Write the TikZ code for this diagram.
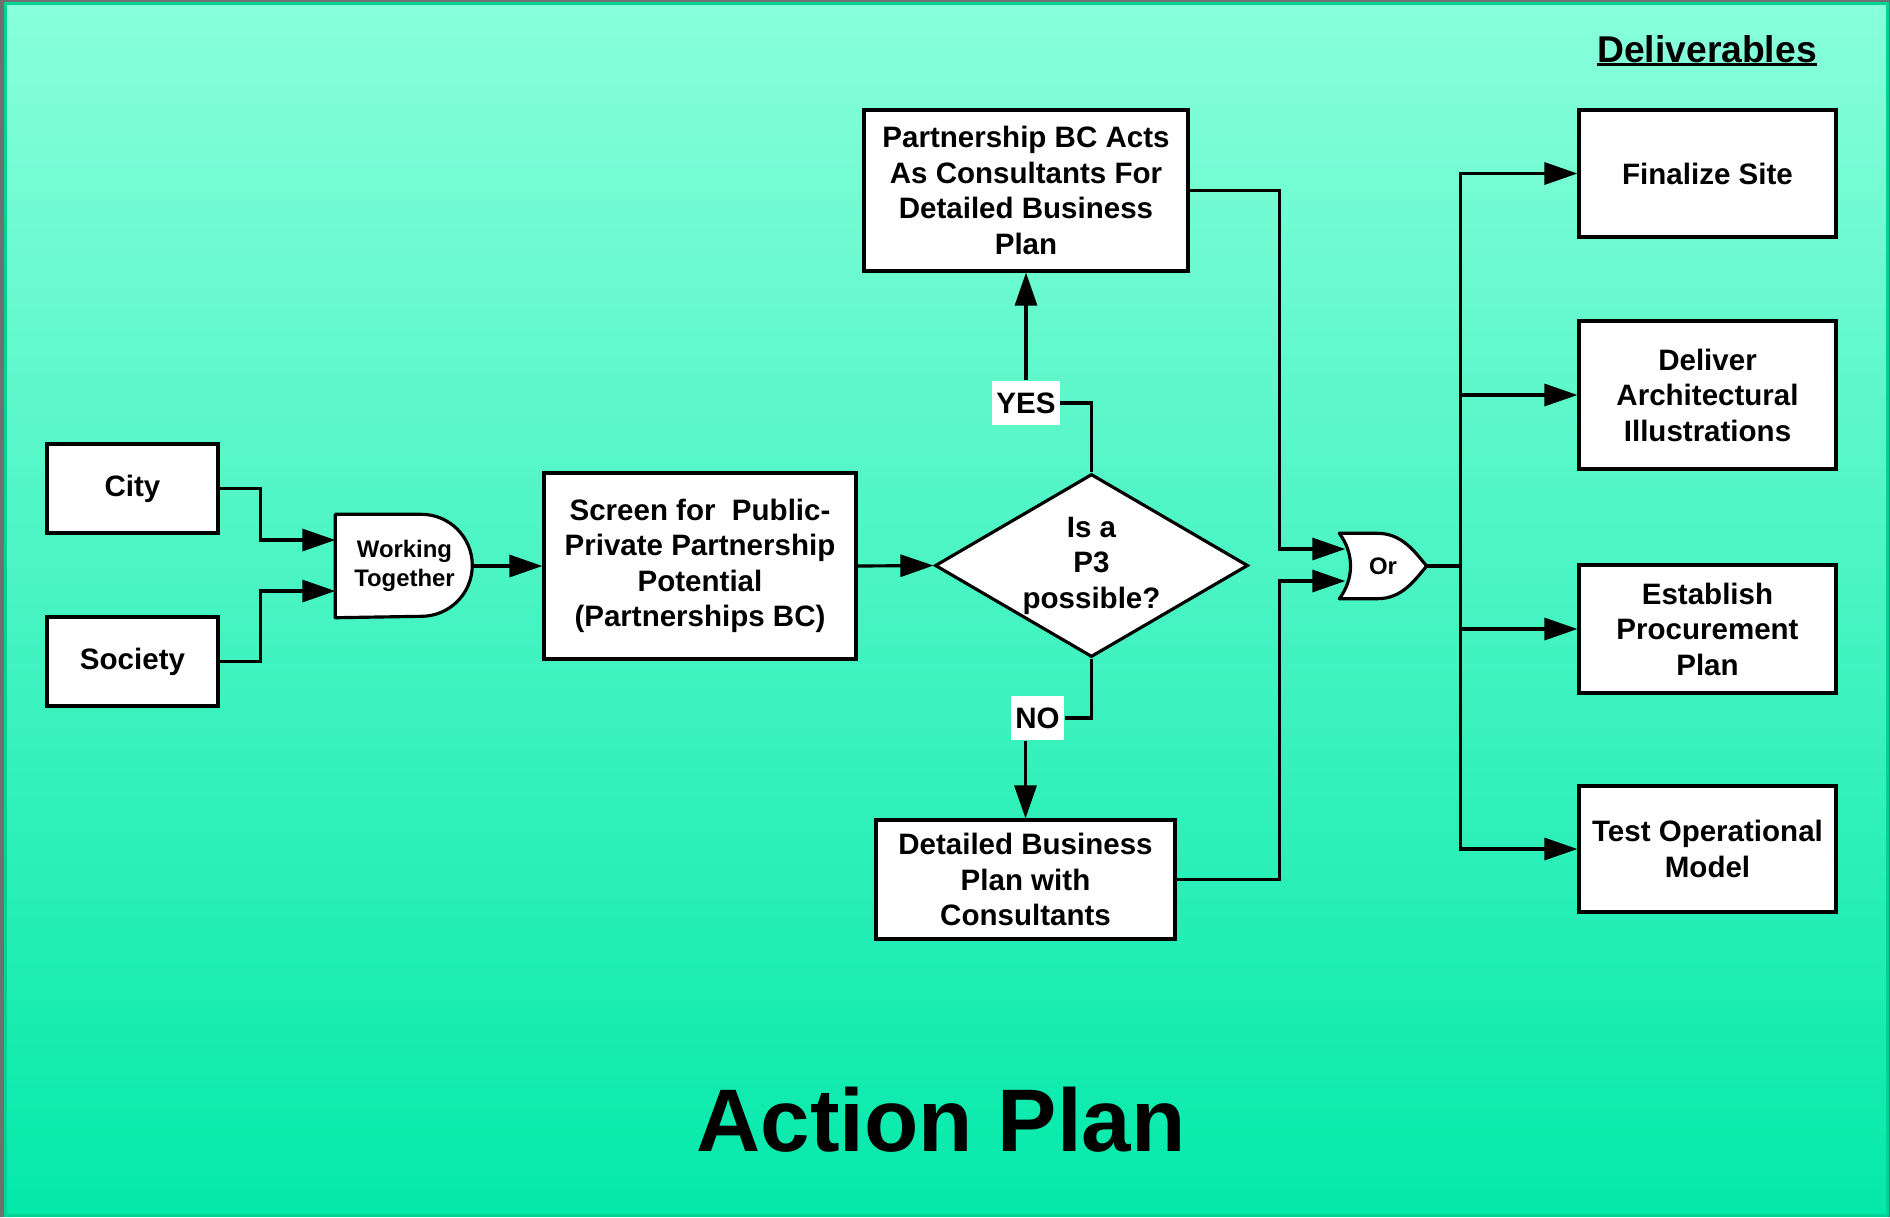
\documentclass[tikz,border=0pt]{standalone}
\usepackage{fontspec}
\setmainfont{Liberation Sans}
\usepackage{tikz}
\usetikzlibrary{arrows.meta,positioning,calc,shapes.geometric,backgrounds}
\definecolor{slidetop}{HTML}{88FFDA}
\definecolor{slidebot}{HTML}{04E9AA}
\definecolor{slideedge}{HTML}{00D396}
\definecolor{slideshadow}{HTML}{6F6F6F}

\begin{document}
\begin{tikzpicture}[
        box/.style={draw, line width=0.9pt, fill=white, align=center, inner sep=1pt,
                    font=\fontsize{8.4}{10.1}\selectfont\bfseries},
        gate/.style={draw=none, align=center, inner sep=0pt, font=\fontsize{6.8}{8.2}\selectfont\bfseries},
        gateline/.style={line width=0.9pt, fill=white, line join=round},
        tag/.style={fill=white, inner xsep=1.2pt, minimum height=3.9mm,
                    font=\fontsize{8.4}{10.1}\selectfont\bfseries},
        arr/.style={-{Triangle[length=3.3mm,width=2.2mm]}, line width=0.9pt}]
        \useasboundingbox (0,0) rectangle (18.9,-12.17);
        \begin{scope}[on background layer]
          \fill[slideshadow] (0,0) rectangle (18.9,-12.17);
          \shadedraw[top color=slidetop, bottom color=slidebot, draw=slideedge, line width=0.3mm]
            (0.055,-0.035) rectangle (18.875,-12.155);
        \end{scope}
        % inputs and screening
        \node[box, minimum width=1.71cm, minimum height=0.89cm] (city) at (1.325,-4.885) {City};
        \node[box, minimum width=1.71cm, minimum height=0.89cm] (soc) at (1.325,-6.615) {Society};
        \node[gate, minimum width=1.37cm, minimum height=1.02cm] (wt) at (4.045,-5.66) {Working\\Together};
        \node[box, minimum width=3.12cm, minimum height=1.86cm] (scr) at (7.00,-5.66)
              {Screen for\ \ Public-\\Private Partnership\\Potential\\(Partnerships BC)};
        \node[box, shape=diamond, aspect=1.71, minimum width=3.13cm, minimum height=1.83cm, inner sep=0pt] (p3)
              at (10.915,-5.655) {Is a\\P3\\possible?};
        \node[box, minimum width=3.24cm, minimum height=1.61cm] (pbc) at (10.26,-1.905)
              {Partnership BC Acts\\As Consultants For\\Detailed Business\\Plan};
        \node[box, minimum width=2.99cm, minimum height=1.19cm] (dbp) at (10.255,-8.795)
              {Detailed Business\\Plan with\\Consultants};
        \node[gate, minimum width=0.86cm, minimum height=0.64cm] (orr) at (13.83,-5.66) {Or};
        % deliverables
        \node[box, minimum width=2.57cm, minimum height=1.27cm] (fin) at (17.075,-1.735) {Finalize Site};
        \node[box, minimum width=2.57cm, minimum height=1.48cm] (del) at (17.075,-3.95)
              {Deliver\\Architectural\\Illustrations};
        \node[box, minimum width=2.57cm, minimum height=1.28cm] (est) at (17.075,-6.29)
              {Establish\\Procurement\\Plan};
        \node[box, minimum width=2.57cm, minimum height=1.26cm] (tst) at (17.075,-8.49)
              {Test Operational\\Model};
        \node[tag] (yes) at (10.26,-4.03) {YES};
        \node[tag] (no) at (10.375,-7.18) {NO};
        \node[font=\fontsize{10.6}{12}\selectfont\bfseries, inner sep=0pt, anchor=base] (dlv)
              at (17.07,-0.62) {Deliverables};
        \draw[line width=0.9pt] ([yshift=-0.25mm]dlv.base west) -- ([yshift=-0.25mm]dlv.base east);
        \node[font=\fontsize{25.3}{30}\selectfont\bfseries, inner sep=0pt, anchor=base] (ttl)
              at (9.41,-11.51) {Action Plan};
        % gate outlines
        \begin{scope}[on background layer]
          \draw[gateline] (wt.north west) -- ++(0.86,0)
            arc[start angle=90, end angle=-90, x radius=0.51cm, y radius=0.51cm] -- (wt.south west) -- cycle;
          \draw[gateline] (orr.north west) -- ++(0.38,0) .. controls +(0.25,0) and +(-0.12,0.14) .. (orr.east)
            .. controls +(-0.12,-0.14) and +(0.25,0) .. ([xshift=3.8mm]orr.south west) -- (orr.south west)
            .. controls +(0.15,0.2) and +(0.15,-0.2) .. (orr.north west) -- cycle;
        \end{scope}
        % connectors
        \coordinate (wt1) at ([yshift=2.6mm]wt.west);
        \coordinate (wt2) at ([yshift=-2.5mm]wt.west);
        \coordinate (or1) at ([shift={(0.06,0.17)}]orr.west);
        \coordinate (or2) at ([shift={(0.06,-0.15)}]orr.west);
        \draw[arr] (city.east) -- ++(0.41,0) |- (wt1);
        \draw[arr] (soc.east) -- ++(0.41,0) |- (wt2);
        \draw[arr] (wt.east) -- (scr.west);
        \draw[arr] (scr.east) -- (p3.west);
        \draw[line width=0.9pt] (p3.north) |- (yes.east);
        \draw[arr] (yes.north) -- (pbc.south);
        \draw[line width=0.9pt] (p3.south) |- (no.east);
        \draw[arr] (no.south -| dbp.north) -- (dbp.north);
        \draw[arr] (pbc.east) -| ([xshift=-6.6mm]or1) -- (or1);
        \draw[arr] (dbp.east) -| ([xshift=-6.6mm]or2) -- (or2);
        \foreach \d in {fin,del,est,tst}
          \draw[arr] (orr.east) -- ++(0.34,0) |- (\d.west);
      \end{tikzpicture}
\end{document}
